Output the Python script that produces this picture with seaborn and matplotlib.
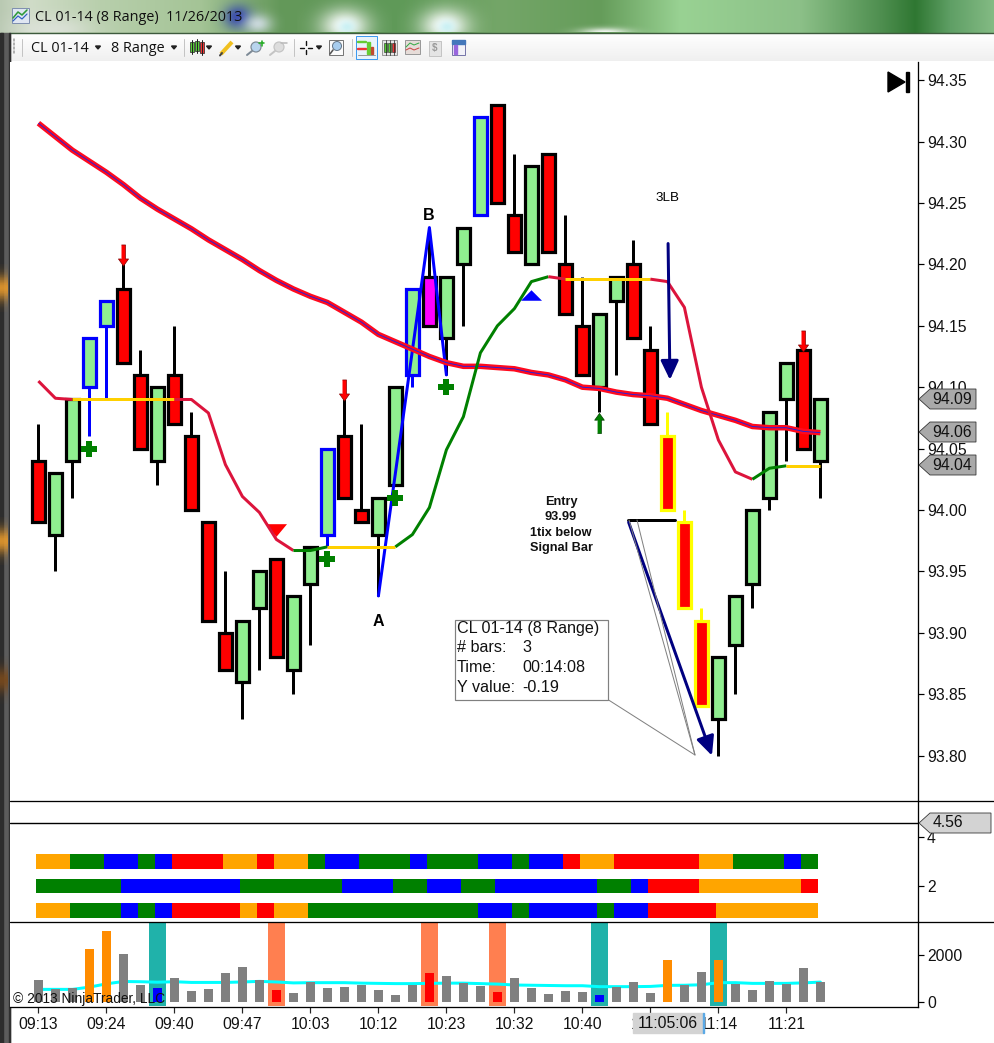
import numpy as np
import pandas as pd
import matplotlib
matplotlib.use("Agg")
import matplotlib.pyplot as plt
from matplotlib.patches import Polygon, Rectangle, Circle
import seaborn as sns

# candle values, one entry per range bar
bar_top = [94.04, 94.03, 94.09, 94.14, 94.17, 94.18, 94.11, 94.10, 94.11, 94.06, 93.99, 93.90,
           93.91, 93.95, 93.96, 93.93, 93.97, 94.05, 94.06, 94.00, 94.01, 94.10, 94.18, 94.19,
           94.19, 94.23, 94.32, 94.33, 94.24, 94.28, 94.29, 94.20, 94.15, 94.16, 94.19, 94.20,
           94.13, 94.06, 93.99, 93.91, 93.88, 93.93, 94.00, 94.08, 94.12, 94.13, 94.09]
bar_bottom = [93.99, 93.98, 94.04, 94.10, 94.15, 94.12, 94.05, 94.04, 94.07, 94.00, 93.91, 93.87,
              93.86, 93.92, 93.88, 93.87, 93.94, 93.98, 94.01, 93.99, 93.98, 94.02, 94.11, 94.15,
              94.14, 94.20, 94.24, 94.25, 94.21, 94.20, 94.21, 94.16, 94.11, 94.10, 94.17, 94.14,
              94.07, 94.00, 93.92, 93.84, 93.83, 93.89, 93.94, 94.01, 94.09, 94.05, 94.04]
bar_high = [94.07, 94.03, 94.09, 94.14, 94.17, 94.20, 94.13, 94.10, 94.15, 94.08, 93.99, 93.95,
            93.91, 93.95, 93.96, 93.93, 93.97, 94.05, 94.09, 94.07, 94.01, 94.10, 94.18, 94.23,
            94.19, 94.23, 94.32, 94.33, 94.29, 94.28, 94.29, 94.24, 94.19, 94.16, 94.19, 94.22,
            94.15, 94.08, 94.00, 93.92, 93.88, 93.93, 94.00, 94.08, 94.12, 94.13, 94.09]
bar_low = [93.99, 93.95, 94.01, 94.06, 94.09, 94.12, 94.05, 94.02, 94.07, 94.00, 93.91, 93.87,
           93.83, 93.87, 93.88, 93.85, 93.89, 93.97, 94.01, 93.99, 93.93, 94.02, 94.10, 94.15,
           94.11, 94.15, 94.24, 94.25, 94.21, 94.20, 94.21, 94.16, 94.11, 94.08, 94.11, 94.14,
           94.07, 94.00, 93.92, 93.84, 93.80, 93.85, 93.92, 94.00, 94.04, 94.05, 94.01]
bar_fill = ["r", "g", "g", "g", "g", "r", "r", "g", "r", "r", "r", "r", "g", "g", "r", "g", "g", "g",
            "r", "r", "g", "g", "g", "m", "g", "g", "g", "r", "r", "g", "r", "r", "r", "g", "g", "r",
            "r", "r", "r", "r", "g", "g", "g", "g", "g", "r", "g"]
blue_outline_bars = [3, 4, 17, 22, 26]
yellow_outline_bars = [37, 38, 39]

slow_ma = [94.315, 94.304, 94.293, 94.284, 94.275, 94.265, 94.254, 94.245, 94.237, 94.229, 94.220,
           94.212, 94.204, 94.195, 94.187, 94.180, 94.174, 94.169, 94.161, 94.153, 94.143, 94.137,
           94.131, 94.125, 94.120, 94.117, 94.117, 94.116, 94.115, 94.112, 94.110, 94.106, 94.100,
           94.099, 94.096, 94.094, 94.093, 94.091, 94.086, 94.081, 94.077, 94.073, 94.068, 94.067,
           94.067, 94.064, 94.063]
fast_ma = [94.105, 94.091, 94.090, 94.090, 94.090, 94.090, 94.090, 94.090, 94.090, 94.090, 94.079,
           94.037, 94.011, 93.998, 93.976, 93.967, 93.967, 93.970, 93.970, 93.970, 93.970, 93.970,
           93.980, 94.002, 94.049, 94.076, 94.128, 94.150, 94.164, 94.186, 94.190, 94.188, 94.188,
           94.188, 94.188, 94.188, 94.188, 94.186, 94.165, 94.100, 94.057, 94.031, 94.025, 94.034,
           94.036, 94.036, 94.036]
fast_ma_runs = [(0, 2, "#DC143C"), (2, 8, "#FFD000"), (8, 15, "#DC143C"), (15, 17, "#008000"),
                (17, 21, "#FFD000"), (21, 30, "#008000"), (30, 31, "#DC143C"), (31, 36, "#FFD000"),
                (36, 42, "#DC143C"), (42, 44, "#008000"), (44, 46, "#FFD000")]

plus_bars = [3, 17, 21, 24]
plus_prices = [94.05, 93.96, 94.01, 94.10]
down_arrow_bars = [5, 18, 45]
down_arrow_prices = [94.208, 94.098, 94.138]

# stripes panel, colour runs per row
top_row_colors = ["orange", "green", "blue", "green", "blue", "red", "orange", "red", "orange", "green",
                  "blue", "green", "blue", "green", "blue", "green", "blue", "red", "orange", "red",
                  "orange", "green", "blue", "green"]
top_row_counts = [2, 2, 2, 1, 1, 3, 2, 1, 2, 1, 2, 3, 1, 3, 2, 1, 2, 1, 2, 5, 2, 3, 1, 1]
mid_row_colors = ["green", "blue", "green", "blue", "green", "blue", "green", "blue", "green", "blue",
                  "red", "orange", "red"]
mid_row_counts = [5, 7, 6, 3, 2, 2, 2, 6, 2, 1, 3, 6, 1]
low_row_colors = ["orange", "green", "blue", "green", "blue", "red", "orange", "red", "orange", "green",
                  "blue", "green", "blue", "green", "blue", "red", "orange"]
low_row_counts = [2, 3, 1, 1, 1, 4, 1, 1, 2, 10, 2, 1, 4, 1, 2, 4, 6]

# volume panel
volume = [922, 540, 580, 2240, 3006, 2030, 710, 580, 1007, 454, 540, 1220, 1475, 922, 496, 369, 837,
          581, 624, 709, 496, 284, 709, 1220, 1092, 794, 666, 411, 1007, 581, 326, 454, 411, 284, 624,
          837, 369, 1772, 709, 1262, 1772, 751, 496, 879, 751, 1432, 837]
volume_color = ["gray"] * 47
for b in [3, 4, 37, 40]:
    volume_color[b] = "darkorange"
for b in [7, 33]:
    volume_color[b] = "blue"
for b in [14, 23, 27]:
    volume_color[b] = "red"
volume_avg = [525, 525, 525, 620, 760, 860, 850, 830, 850, 820, 820, 820, 840, 865, 840, 800, 810, 810,
              810, 790, 780, 770, 770, 780, 790, 790, 770, 750, 710, 700, 690, 680, 680, 640, 640, 640,
              650, 695, 700, 720, 810, 810, 780, 780, 780, 800, 835]
teal_bars = [7, 33, 40]
coral_bars = [14, 23, 27]

time_ticks = [0, 4, 8, 12, 16, 20, 24, 28, 32, 36, 40, 44]
time_labels = ["09:13", "09:24", "09:40", "09:47", "10:03", "10:12", "10:23", "10:32", "10:40", "10:59",
               "11:14", "11:21"]
price_ticks = [93.80, 93.85, 93.90, 93.95, 94.00, 94.05, 94.10, 94.15, 94.20, 94.25, 94.30, 94.35]

WIDTH, HEIGHT = 995, 1043
FILLS = {"r": "#FF0000", "g": "#90EE90", "m": "#FF00FF"}
PX = 0.72  # one pixel in points at dpi 100
XLIM = ((10 - 38.4) / 17, (918 - 38.4) / 17)
TICK_FONT = 11.3


def panel_axes(fig, left, top, right, bottom, zorder=1):
    return fig.add_axes([left / WIDTH, 1 - bottom / HEIGHT, (right - left) / WIDTH, (bottom - top) / HEIGHT],
                        zorder=zorder)


def blob(ax, x, y, rx, ry, color, strength=1.0):
    # soft patch for the blurred desktop behind the window title
    xs = np.arange(x - 2 * rx, x + 2 * rx)
    ys = np.arange(max(y - 2 * ry, 0), min(y + 2 * ry, 33))
    xx, yy = np.meshgrid(xs, ys)
    img = np.zeros(xx.shape + (4,))
    img[..., :3] = matplotlib.colors.to_rgb(color)
    img[..., 3] = strength * np.exp(-((xx - x) / rx) ** 2 - ((yy - y) / ry) ** 2)
    ax.imshow(img, extent=(xs[0], xs[-1], ys[-1], ys[0]), aspect="auto", interpolation="bilinear", zorder=1)


def draw_window(bg):
    stops_x = [0, 30, 100, 200, 280, 400, 500, 600, 680, 800, 880, 915, 950, 995]
    stops = ["#b9c9b2", "#d0dcc8", "#b8cfac", "#a4c496", "#64985a", "#5f9a58", "#74a668", "#659c5a", "#99d293",
             "#8cc088", "#4f8f50", "#2f7732", "#5f9f65", "#85bc85"]
    rgb = np.array([matplotlib.colors.to_rgb(c) for c in stops])
    xs = np.arange(WIDTH)
    strip = np.stack([np.interp(xs, stops_x, rgb[:, k]) for k in range(3)], axis=1)[None, :, :]
    bg.imshow(strip, extent=(0, WIDTH, 33, 0), aspect="auto", zorder=0)
    blob(bg, 55, 30, 40, 14, "#e8e8e8", 0.6)
    blob(bg, 238, 17, 14, 12, "#2f3fb5", 0.9)
    blob(bg, 258, 24, 14, 10, "#dfe6f5", 0.8)
    blob(bg, 345, 26, 24, 17, "#ffffff", 1.0)
    blob(bg, 347, 27, 9, 7, "#bfeef2", 0.8)
    blob(bg, 445, 26, 24, 17, "#ffffff", 1.0)
    blob(bg, 447, 27, 9, 7, "#bfeef2", 0.8)
    blob(bg, 605, 33, 25, 5, "#ffffff", 0.95)
    # toolbar
    bg.imshow(np.linspace(1.0, 0.94, 28)[:, None, None].repeat(3, axis=2), extent=(10, WIDTH, 61, 33),
              aspect="auto", zorder=2)
    bg.plot([10, WIDTH], [32.8, 32.8], color="#3d5a3d", lw=1.4 * PX, zorder=3)
    # left window frame
    bg.add_patch(Rectangle((0, 33), 10, HEIGHT - 33, color="#5c5c5c", zorder=2))
    bg.add_patch(Rectangle((0, 33), 2.5, HEIGHT - 33, color="#2d2d2d", zorder=3))
    bg.add_patch(Rectangle((8.5, 33), 1.5, HEIGHT - 33, color="#303030", zorder=3))
    for y in [288, 541, 680]:
        blob_y = np.linspace(y - 24, y + 24, 30)
        alpha = np.exp(-((blob_y - y) / 13) ** 2)
        img = np.zeros((30, 1, 4))
        img[..., :3] = matplotlib.colors.to_rgb("#e89a2c" if y != 680 else "#7a4a1c")
        img[..., 3] = alpha[:, None] * 0.9
        bg.imshow(img, extent=(0, 8, y + 24, y - 24), aspect="auto", zorder=4)
    bg.set_xlim(0, WIDTH)
    bg.set_ylim(HEIGHT, 0)
    bg.axis("off")


def draw_toolbar(ov):
    ov.text(35, 17.5, "CL 01-14 (8 Range)  11/26/2013", fontsize=10.4, family="Open Sans", va="center", color="#101010")
    ov.text(31, 48.5, "CL 01-14", fontsize=10.4, family="Open Sans", va="center", color="#101010")
    ov.text(111, 48.5, "8 Range", fontsize=10.4, family="Open Sans", va="center", color="#101010")
    for x in [98, 174, 209, 238, 319]:
        ov.add_patch(Polygon([(x - 2.5, 46), (x + 2.5, 46), (x, 49)], color="#222222"))
    for x in [22, 184, 294, 352]:
        ov.plot([x, x], [39, 56], color="#c4c4c4", lw=PX)
    for dots in [39, 43, 47, 51]:
        ov.plot([14, 14], [dots, dots + 1.6], color="#999999", lw=1.5 * PX)
    # icon row
    ov.add_patch(Rectangle((11.5, 8), 17, 15, fc="#dfe6f2", ec="#8090b0", lw=PX))
    ov.plot([13, 18, 22, 27], [18, 12, 15, 10], color="#2f9a3a", lw=1.6 * PX)
    ov.plot([13, 18, 22, 27], [21, 16, 19, 14], color="#3060c0", lw=1.2 * PX)
    for x, col, y0, y1 in [(192, "#55cc33", 41, 53), (197, "#55cc33", 40, 52), (202, "#ee3333", 41, 54)]:
        ov.plot([x, x], [y0 - 1, y1 + 1], color="#222222", lw=PX)
        ov.add_patch(Rectangle((x - 1.8, y0 + 1), 3.6, y1 - y0 - 2, fc=col, ec="#222222", lw=0.5))
    ov.plot([221, 232], [54, 42], color="#f0c020", lw=4 * PX, solid_capstyle="butt")
    ov.plot([220, 222], [55.5, 53], color="#444444", lw=2 * PX)
    for x, col in [(256, "#7d8a96"), (279, "#c4c4c4")]:
        ov.add_patch(Circle((x, 47), 5, fc="#b8d4ee" if x < 270 else "#dddddd", ec=col, lw=1.2 * PX))
        ov.plot([x - 4, x - 9], [51, 55], color=col, lw=2 * PX)
    ov.plot([259, 264], [43, 43], color="#22aa22", lw=1.6 * PX)
    ov.plot([261.5, 261.5], [40.5, 45.5], color="#22aa22", lw=1.6 * PX)
    ov.plot([281, 287], [43, 43], color="#bbbbbb", lw=1.6 * PX)
    ov.plot([300, 304, np.nan, 308, 312, np.nan, 306, 306, np.nan, 306, 306],
            [47.5, 47.5, np.nan, 47.5, 47.5, np.nan, 41, 45, np.nan, 50, 54], color="#111111", lw=1.4 * PX)
    ov.add_patch(Rectangle((329, 40), 14, 15, fc="#fbfbfb", ec="#777777", lw=PX))
    ov.add_patch(Circle((337, 46), 4.5, fc="#a8cdee", ec="#667788", lw=PX))
    ov.plot([333, 330], [50, 54], color="#555555", lw=1.6 * PX)
    ov.add_patch(Rectangle((355.5, 35.5), 21.5, 23, fc="#eaf3fb", ec="#3d9af0", lw=PX))
    ov.plot([358, 366], [42, 42], color="#66cc33", lw=2.4 * PX)
    ov.plot([358, 366], [49, 49], color="#ee3333", lw=2.4 * PX)
    ov.add_patch(Rectangle((367, 42), 2.5, 12, color="#66cc33"))
    ov.add_patch(Rectangle((370.5, 47), 2.5, 7, color="#c04a30"))
    ov.plot([358, 375], [55, 55], color="#999999", lw=PX)
    ov.add_patch(Rectangle((382, 40), 15, 15, fc="#e6e6e6", ec="#999999", lw=PX))
    for x, col in [(385.5, "#55cc33"), (389.5, "#55cc33"), (393.5, "#ee3333")]:
        ov.plot([x, x], [40, 55], color="#222222", lw=0.7 * PX)
        ov.add_patch(Rectangle((x - 1.5, 43), 3, 9, fc=col, ec="#222222", lw=0.4))
    ov.add_patch(Rectangle((405, 40), 15, 14, fc="#e6dcd8", ec="#999999", lw=PX))
    ov.plot([406, 410, 414, 419], [47, 43, 45, 43], color="#33aa44", lw=PX)
    ov.plot([406, 410, 414, 419], [50, 48, 50, 48], color="#cc4444", lw=PX)
    ov.add_patch(Rectangle((429, 41), 12, 15, fc="#e4e4e4", ec="#c4c4c4", lw=PX))
    ov.text(435, 48.5, "$", fontsize=7, color="#999999", ha="center", va="center", weight="bold")
    ov.add_patch(Rectangle((452, 40), 13, 15, fc="#f2f2f8", ec="#7777aa", lw=PX))
    ov.add_patch(Rectangle((452, 40), 13, 3.5, color="#4477bb"))
    ov.add_patch(Rectangle((453.5, 45), 3, 9, color="#9966dd"))


def draw_candles(ax):
    for i in range(len(bar_top)):
        outline = "black"
        if i in blue_outline_bars:
            outline = "#0000FF"
        if i in yellow_outline_bars:
            outline = "#FFFF00"
        z = 3 + i * 0.001
        ax.vlines(i, bar_low[i], bar_high[i], color=outline, lw=3 * PX, zorder=z)
        ax.bar(i, bar_top[i] - bar_bottom[i], bottom=bar_bottom[i], width=0.79, facecolor=FILLS[bar_fill[i]],
               edgecolor=outline, linewidth=3.2 * PX, zorder=z)


def draw_price_panel(ax):
    bars = np.arange(len(bar_top))
    draw_candles(ax)

    # A-B swing drawn from bar lows and highs
    ax.plot([20, 23, 24], [bar_low[20], bar_high[23], bar_low[24]], color="#0000FF", lw=3 * PX, zorder=5)

    # moving averages
    sns.lineplot(x=bars, y=slow_ma, color="#FF0A1E", linewidth=5.5 * PX, ax=ax, zorder=6, solid_capstyle="butt")
    sns.lineplot(x=bars, y=slow_ma, color="#2020E0", linewidth=0.9 * PX, ax=ax, zorder=6.1, solid_capstyle="butt")
    for start, end, color in fast_ma_runs:
        sns.lineplot(x=bars[start:end + 1], y=fast_ma[start:end + 1], color=color, linewidth=3 * PX, ax=ax,
                     zorder=6.2, solid_capstyle="butt")

    # signal markers
    sns.scatterplot(x=plus_bars, y=plus_prices, marker="P", s=133, color="#008000", linewidth=0, ax=ax, zorder=7)
    down_arrow = [(-.19, 1), (.19, 1), (.19, -.33), (.48, -.33), (0, -1), (-.48, -.33), (-.19, -.33)]
    up_arrow = [(x, -y) for x, y in down_arrow]
    ax.scatter(down_arrow_bars, down_arrow_prices, marker=down_arrow, s=230, c="#FF0000", edgecolors="#800000",
               linewidths=0.5, zorder=7)
    ax.scatter([33], [94.071], marker=up_arrow, s=210, c="#008000", edgecolors="#004000", linewidths=0.5, zorder=7)
    tri_down = [(-1, .6), (1, .6), (0, -.6)]
    tri_up = [(-1, -.5), (1, -.5), (0, .5)]
    ax.scatter([14], [93.984], marker=tri_down, s=229, c="#FF0000", linewidths=0, zorder=5.5)
    ax.scatter([29], [94.175], marker=tri_up, s=229, c="#0000FF", linewidths=0, zorder=5.5)

    # entry mark and navy drawn arrows
    ax.plot([34.7, 37.45], [93.992, 93.992], color="black", lw=3 * PX, zorder=7)
    arrow = dict(arrowstyle="-|>,head_length=1.15,head_width=.54", color="#000080", lw=3 * PX, shrinkA=0,
                 shrinkB=0, mutation_scale=10)
    ax.annotate("", xy=(37.15, 94.106), xytext=(37.04, 94.217), arrowprops=arrow, zorder=8)
    ax.annotate("", xy=(39.62, 93.80), xytext=(34.72, 93.99), arrowprops=arrow, zorder=8)

    ax.set_xlim(XLIM)
    ax.set_ylim(94 + (510 - 801) / 1228, 94 + (510 - 62) / 1228)
    ax.set_xticks([])
    ax.set_yticks(price_ticks, [f"{p:.2f}" for p in price_ticks])


def draw_stripes(ax):
    rows = [(3, top_row_colors, top_row_counts), (2, mid_row_colors, mid_row_counts), (1, low_row_colors, low_row_counts)]
    for y, colors, counts in rows:
        left = 0
        for color, count in zip(colors, counts):
            ax.barh(y, count, left=left - 0.16, height=0.61, color=color, linewidth=0)
            left += count
    ax.axhline(4.56, color="black", lw=1.4 * PX)
    ax.set_xlim(XLIM)
    ax.set_ylim(2 - (922 - 886) / 24.5, 2 + (886 - 801) / 24.5)
    ax.set_xticks([])
    ax.set_yticks([2, 4], ["2", "4"])


def draw_volume(ax):
    for b in teal_bars:
        ax.axvspan(b - 0.5, b + 0.5, ymin=0.012, color="#20B2AA", lw=0, zorder=0)
    for b in coral_bars:
        ax.axvspan(b - 0.5, b + 0.5, ymin=0.012, color="#FF7F50", lw=0, zorder=0)
    bars = np.arange(len(volume))
    vol_df = pd.DataFrame({"bar": bars, "volume": volume, "color": volume_color})
    sns.barplot(data=vol_df, x="bar", y="volume", hue="color", palette={c: c for c in set(volume_color)},
                native_scale=True, width=0.53, dodge=False, legend=False, saturation=1, linewidth=0, ax=ax, zorder=2)
    sns.lineplot(x=bars, y=volume_avg, color="#00FFFF", linewidth=3 * PX, ax=ax, zorder=1)
    ax.set(xlabel="", ylabel="")
    ax.set_xlim(XLIM)
    ax.set_ylim(-(1007 - 1001.7) / 47 * 2000, (1001.7 - 922) / 47 * 2000)
    ax.set_xticks(time_ticks, time_labels)
    ax.set_yticks([0, 2000], ["0", "2000"])


def draw_overlay(ov):
    draw_toolbar(ov)
    # panel rules running through the price scale
    ov.plot([10, WIDTH], [801.3, 801.3], color="black", lw=1.3 * PX)
    ov.plot([10, WIDTH], [922.3, 922.3], color="black", lw=1.3 * PX)

    # skip-to-end button
    ov.add_patch(Polygon([(888, 72), (888, 92), (905, 82)], color="black"))
    ov.add_patch(Rectangle((905.7, 72), 3, 20, color="black"))

    # last price flags
    for label, y in [("94.09", 399), ("94.06", 432), ("94.04", 465)]:
        ov.add_patch(Polygon([(919, y), (930, y - 10), (976, y - 10), (976, y + 10), (930, y + 10)],
                             fc="#A9A9A9", ec="#303030", lw=0.8 * PX))
        ov.text(952, y + 0.5, label, fontsize=TICK_FONT, ha="center", va="center", color="#111111")
    ov.add_patch(Polygon([(919, 823), (930, 813), (991, 813), (991, 833), (930, 833)],
                         fc="#D3D3D3", ec="#303030", lw=0.8 * PX))
    ov.text(947.5, 822.5, "4.56", fontsize=TICK_FONT, ha="center", va="center", color="#111111")

    # chart labels
    ov.text(429, 216, "B", fontsize=11.5, weight="bold", ha="center", va="center", color="black")
    ov.text(378, 621, "A", fontsize=11.5, weight="bold", ha="center", va="center", color="black")
    ov.text(668, 198, "3LB", fontsize=9.6, ha="center", va="center", color="black")
    for y, line in zip([502.5, 517.5, 532.5, 547.5], ["Entry", "93.99", "1tix below", "Signal Bar"]):
        ov.text(561, y, line, fontsize=9.2, weight="bold", ha="center", va="center", color="#111111")

    # measure tool callout
    ov.plot([607, 695, 637], [699, 755, 520], color="#808080", lw=PX, zorder=2)
    ov.plot([695, 629], [755, 520], color="#808080", lw=PX, zorder=2)
    ov.add_patch(Rectangle((454.5, 619.5), 153, 80, fc="white", ec="#808080", lw=1.2 * PX, zorder=3))
    for y, name, value in [(628, "CL 01-14 (8 Range)", ""), (648, "# bars:", "3"), (668, "Time:", "00:14:08"),
                           (688, "Y value:", "-0.19")]:
        ov.text(457, y, name, fontsize=11.6, va="center", color="#111111", zorder=4)
        ov.text(522, y, value, fontsize=11.6, va="center", color="#111111", zorder=4)

    # crosshair time box and copyright
    ov.add_patch(Rectangle((633, 1013), 70, 20, color="#D3D3D3", zorder=3))
    ov.add_patch(Rectangle((703, 1013), 1.3, 20, color="#5aa9e6", zorder=3))
    ov.text(668, 1023, "11:05:06", fontsize=TICK_FONT, ha="center", va="center", color="#111111", zorder=4)
    ov.text(13, 999, "\u00a9 2013 NinjaTrader, LLC", fontsize=9.9, va="center", color="#111111", zorder=4)

    ov.set_xlim(0, WIDTH)
    ov.set_ylim(HEIGHT, 0)
    ov.axis("off")


def main():
    sns.set_style("white")
    plt.rcParams["font.family"] = ["Liberation Sans", "DejaVu Sans"]
    fig = plt.figure(figsize=(WIDTH / 100, HEIGHT / 100), dpi=100, facecolor="white")

    bg = panel_axes(fig, 0, 0, WIDTH, HEIGHT, zorder=0)
    draw_window(bg)

    price_ax = panel_axes(fig, 10, 62, 918, 801, zorder=1)
    draw_price_panel(price_ax)
    stripe_ax = panel_axes(fig, 10, 801, 918, 922, zorder=1)
    draw_stripes(stripe_ax)
    volume_ax = panel_axes(fig, 10, 922, 918, 1007, zorder=1)
    draw_volume(volume_ax)

    for ax in [price_ax, stripe_ax, volume_ax]:
        ax.set_facecolor("white")
        ax.yaxis.tick_right()
        ax.tick_params(axis="y", length=6 * PX, width=1.2 * PX, pad=2.2, labelsize=TICK_FONT, colors="black",
                       labelcolor="#111111", right=True, left=False)
        for name, spine in ax.spines.items():
            spine.set_visible(name == "right")
            spine.set_linewidth(1.3 * PX)
            spine.set_color("black")
    volume_ax.spines["bottom"].set_visible(True)
    volume_ax.spines["bottom"].set_linewidth(1.3 * PX)
    volume_ax.spines["bottom"].set_color("black")
    volume_ax.tick_params(axis="x", length=6 * PX, width=1.2 * PX, pad=3, labelsize=TICK_FONT, bottom=True,
                          labelcolor="#111111")

    ov = panel_axes(fig, 0, 0, WIDTH, HEIGHT, zorder=10)
    ov.patch.set_alpha(0)
    draw_overlay(ov)

    fig.savefig("out.png", dpi=100)
    print("saved out.png")


if __name__ == "__main__":
    main()
